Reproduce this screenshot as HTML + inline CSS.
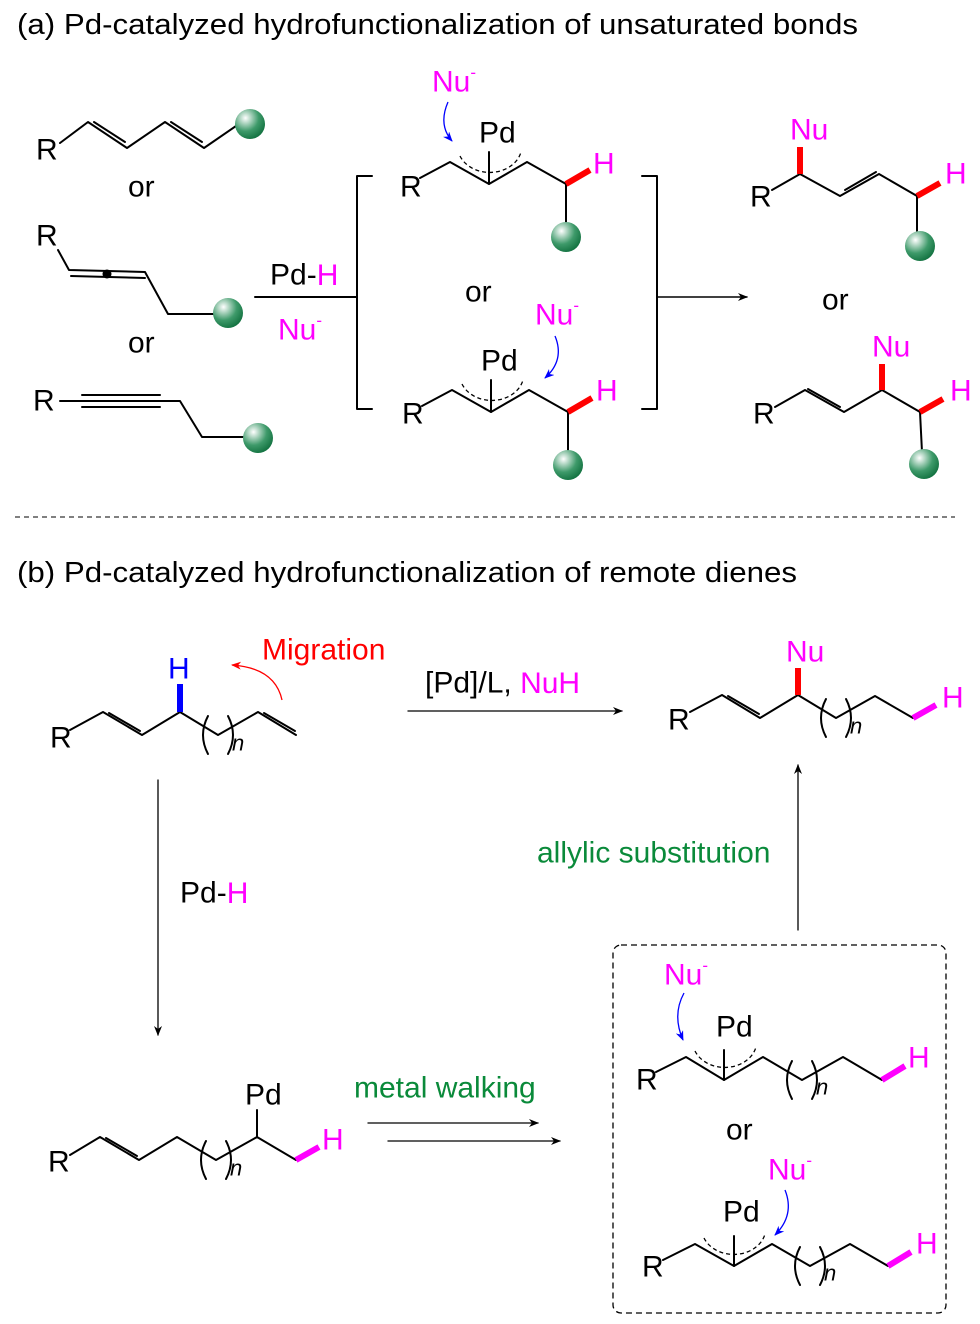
<!DOCTYPE html>
<html><head><meta charset="utf-8"><style>
html,body{margin:0;padding:0;background:#fff;}
svg{display:block;font-family:"Liberation Sans",Arial,sans-serif;}
.b{stroke:#000;stroke-width:2;fill:none;stroke-linecap:round;stroke-linejoin:round}
.t{font-size:30px;dominant-baseline:central}
.m{fill:#f0f}
</style></head><body>
<svg width="980" height="1324" viewBox="0 0 980 1324" xmlns="http://www.w3.org/2000/svg">
<defs>
<radialGradient id="g" cx="0.35" cy="0.3" r="0.8"><stop offset="0" stop-color="#fff"/><stop offset="0.55" stop-color="#3e9a6a"/><stop offset="1" stop-color="#0a6a38"/></radialGradient>
<marker id="ar" markerWidth="10" markerHeight="8" refX="9" refY="4" orient="auto" markerUnits="userSpaceOnUse"><path d="M0,0 L10,4 L0,8 L3,4z" fill="#000"/></marker>
<marker id="ab" markerWidth="10" markerHeight="8" refX="9" refY="4" orient="auto" markerUnits="userSpaceOnUse"><path d="M0,0 L10,4 L0,8 L3,4z" fill="#00f"/></marker>
<marker id="arr" markerWidth="10" markerHeight="8" refX="9" refY="4" orient="auto" markerUnits="userSpaceOnUse"><path d="M0,0 L10,4 L0,8 L3,4z" fill="#f00"/></marker>
</defs>
<g class="t">
<text x="17" y="25" style="font-size:29px" textLength="841" lengthAdjust="spacingAndGlyphs">(a) Pd-catalyzed hydrofunctionalization of unsaturated bonds</text>
<text x="17" y="573" style="font-size:29px" textLength="780" lengthAdjust="spacingAndGlyphs">(b) Pd-catalyzed hydrofunctionalization of remote dienes</text>
</g>

<!-- (a) left substrates -->
<g class="b">
<path d="M60,143 L88,122 L127,148 L165,122 L204,148 L236,126"/>
<path d="M92,130 L123,150" transform="translate(2,-8)"/>
<path d="M169,130 L200,150" transform="translate(2,-8)"/>
<path d="M58,250 L69,270 L145,272 L168,314 L215,314"/>
<path d="M71,276 L145,278"/>
<path d="M60,401 L180,401 L202,437 L245,437"/>
<path d="M82,395 L160,395 M82,407 L160,407"/>
</g>
<circle cx="107" cy="274" r="4.5" fill="#000"/>
<circle cx="250" cy="124" r="15" fill="url(#g)"/>
<circle cx="228" cy="313" r="15" fill="url(#g)"/>
<circle cx="258" cy="438" r="15" fill="url(#g)"/>
<g class="t">
<text x="36" y="150">R</text><text x="128" y="187">or</text>
<text x="36" y="236">R</text><text x="128" y="343">or</text>
<text x="33" y="401">R</text>
<text x="270" y="275">Pd-<tspan class="m">H</tspan></text>
<text x="278" y="330" class="m">Nu<tspan dy="-10" style="font-size:17px">-</tspan></text>
</g>
<path class="b" d="M255,297 L357,297"/>
<path class="b" d="M372,176 L357,176 L357,409 L372,409"/>
<path class="b" d="M642,176 L657,176 L657,409 L642,409"/>
<path class="b" d="M657,297 L747,297" marker-end="url(#ar)" style="stroke-width:1.4"/>

<!-- intermediates -->
<g id="int1">
<path class="b" d="M420,178 L450,162 L489,184 L527,162 L566,184 L566,226"/>
<path d="M566,184 L590,170" stroke="#f00" stroke-width="6"/>
<path class="b" d="M489,152 L489,184"/>
<path d="M460,156 A32,26 0 0 0 521,152" fill="none" stroke="#000" stroke-width="1.3" stroke-dasharray="4,3"/>
<circle cx="566" cy="237" r="15" fill="url(#g)"/>
</g>
<g class="t">
<text x="400" y="187">R</text>
<text x="479" y="133">Pd</text>
<text x="593" y="164" class="m">H</text>
<text x="432" y="82" class="m">Nu<tspan dy="-10" style="font-size:17px">-</tspan></text>
<text x="465" y="292">or</text>
</g>
<path d="M448,102 Q438,125 452,141" fill="none" stroke="#00f" stroke-width="1.3" marker-end="url(#ab)"/>
<use href="#int1" transform="translate(2,228)"/>
<g class="t">
<text x="402" y="414">R</text>
<text x="481" y="361">Pd</text>
<text x="596" y="391" class="m">H</text>
<text x="535" y="315" class="m">Nu<tspan dy="-10" style="font-size:17px">-</tspan></text>
</g>
<path d="M555,336 Q565,360 545,378" fill="none" stroke="#00f" stroke-width="1.3" marker-end="url(#ab)"/>

<!-- products (a) -->
<g class="b">
<path d="M772,190 L800,174 L840,196 L879,174 L917,196 L917,235"/>
<path d="M845,190 L876,172"/>
<path d="M775,407 L805,390 L844,412 L882,390 L920,412 L922,452"/>
<path d="M808,397 L840,415" transform="translate(0,-8)"/>
</g>
<path d="M800,174 L800,147 M917,196 L940,183 M882,390 L882,364 M920,412 L943,399" stroke="#f00" stroke-width="6"/>
<circle cx="920" cy="246" r="15" fill="url(#g)"/>
<circle cx="924" cy="464" r="15" fill="url(#g)"/>
<g class="t">
<text x="750" y="197">R</text>
<text x="790" y="130" fill="#f0f">Nu</text>
<text x="945" y="174" class="m">H</text>
<text x="822" y="300">or</text>
<text x="753" y="414">R</text>
<text x="872" y="347" class="m">Nu</text>
<text x="950" y="391" class="m">H</text>
</g>

<path d="M15,517 L955,517" stroke="#000" stroke-width="1" stroke-dasharray="5,4"/>

<!-- (b) reactant -->
<g class="b">
<path d="M70,730 L103,712 L142,735 L180,712 L218,735 L258,712 L296,735"/>
<path d="M107,720 L138,738" transform="translate(2,-7)"/>
<path d="M262,720 L293,738" transform="translate(2,-7)"/>
<path d="M208,716 Q198,735 208,754 M228,716 Q238,735 228,754"/>
</g>
<path d="M177,712 L183,712 L183,684 L177,684 Z" fill="#00f"/>
<g class="t">
<text x="50" y="738">R</text>
<text x="168" y="669" fill="#00f">H</text>
<text x="232" y="743" style="font-style:italic;font-size:22px">n</text>
<text x="262" y="650" fill="#f00">Migration</text>
<text x="425" y="683">[Pd]/L, <tspan class="m">NuH</tspan></text>
<text x="180" y="893">Pd-<tspan class="m">H</tspan></text>
<text x="537" y="853" fill="#0a8a3a">allylic substitution</text>
<text x="354" y="1088" fill="#0a8a3a">metal walking</text>
</g>
<path d="M282,700 Q275,668 232,665" fill="none" stroke="#f00" stroke-width="1.3" marker-end="url(#arr)"/>
<path d="M408,711 L622,711" class="b" style="stroke-width:1.3" marker-end="url(#ar)"/>
<path d="M158,780 L158,1035" class="b" style="stroke-width:1.3" marker-end="url(#ar)"/>
<path d="M798,930 L798,765" class="b" style="stroke-width:1.3" marker-end="url(#ar)"/>
<path d="M368,1123 L538,1123" class="b" style="stroke-width:1.3" marker-end="url(#ar)"/>
<path d="M388,1141 L560,1141" class="b" style="stroke-width:1.3" marker-end="url(#ar)"/>

<!-- (b) product -->
<g class="b">
<path d="M690,712 L722,695 L760,718 L798,695 L836,718 L875,696 L913,718"/>
<path d="M726,703 L757,721" transform="translate(2,-7)"/>
<path d="M826,699 Q816,718 826,737 M846,699 Q856,718 846,737"/>
</g>
<path d="M798,695 L798,668" stroke="#f00" stroke-width="6"/>
<path d="M913,718 L936,705" stroke="#f0f" stroke-width="6"/>
<g class="t">
<text x="668" y="720">R</text>
<text x="786" y="652" class="m">Nu</text>
<text x="942" y="698" class="m">H</text>
<text x="850" y="726" style="font-style:italic;font-size:22px">n</text>
</g>

<!-- bottom left -->
<g class="b">
<path d="M70,1155 L100,1137 L139,1160 L177,1137 L216,1160 L257,1137 L296,1160"/>
<path d="M104,1145 L135,1163" transform="translate(2,-7)"/>
<path d="M206,1141 Q196,1160 206,1179 M226,1141 Q236,1160 226,1179"/>
<path d="M257,1110 L257,1137"/>
</g>
<path d="M296,1160 L319,1147" stroke="#f0f" stroke-width="6"/>
<g class="t">
<text x="48" y="1162">R</text>
<text x="245" y="1095">Pd</text>
<text x="322" y="1140" class="m">H</text>
<text x="230" y="1168" style="font-style:italic;font-size:22px">n</text>
</g>

<!-- dashed box -->
<rect x="613" y="945" width="333" height="368" rx="8" fill="none" stroke="#000" stroke-width="1.3" stroke-dasharray="6,4"/>
<g class="b">
<path d="M656,1072 L686,1057 L724,1080 L763,1057 L802,1080 L843,1057 L882,1080"/>
<path d="M724,1050 L724,1080"/>
<path d="M792,1061 Q782,1080 792,1099 M812,1061 Q822,1080 812,1099"/>
<path d="M663,1260 L695,1244 L734,1266 L772,1244 L810,1266 L850,1244 L888,1266"/>
<path d="M734,1236 L734,1266"/>
<path d="M800,1247 Q790,1266 800,1285 M820,1247 Q830,1266 820,1285"/>
</g>
<path d="M695,1051 A32,26 0 0 0 756,1047" fill="none" stroke="#000" stroke-width="1.3" stroke-dasharray="4,3"/>
<path d="M704,1238 A32,26 0 0 0 765,1234" fill="none" stroke="#000" stroke-width="1.3" stroke-dasharray="4,3"/>
<path d="M882,1080 L905,1066 M888,1266 L911,1252" stroke="#f0f" stroke-width="6"/>
<path d="M684,993 Q672,1015 683,1040" fill="none" stroke="#00f" stroke-width="1.3" marker-end="url(#ab)"/>
<path d="M785,1190 Q795,1215 775,1235" fill="none" stroke="#00f" stroke-width="1.3" marker-end="url(#ab)"/>
<g class="t">
<text x="636" y="1080">R</text>
<text x="664" y="975" class="m">Nu<tspan dy="-10" style="font-size:17px">-</tspan></text>
<text x="716" y="1027">Pd</text>
<text x="908" y="1058" class="m">H</text>
<text x="816" y="1087" style="font-style:italic;font-size:22px">n</text>
<text x="726" y="1130">or</text>
<text x="642" y="1267">R</text>
<text x="768" y="1170" class="m">Nu<tspan dy="-10" style="font-size:17px">-</tspan></text>
<text x="723" y="1212">Pd</text>
<text x="916" y="1244" class="m">H</text>
<text x="824" y="1273" style="font-style:italic;font-size:22px">n</text>
</g>
</svg>
</body></html>
